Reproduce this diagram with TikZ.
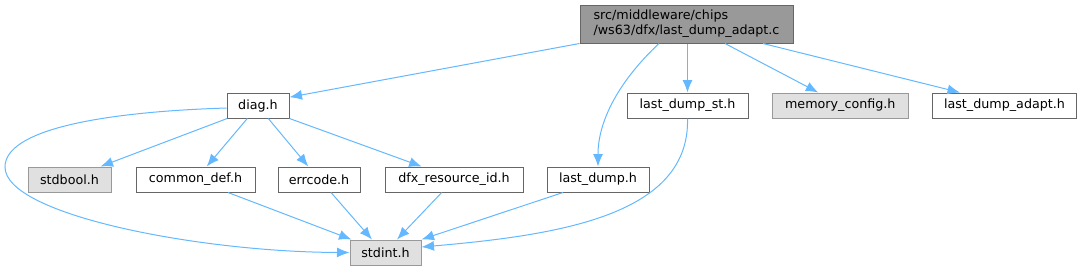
\documentclass[tikz,border=0pt]{standalone}
\usepackage{fontspec}
\setmainfont{DejaVu Sans}
\usetikzlibrary{arrows.meta}
\definecolor{edgeblue}{HTML}{63B8FF}
\definecolor{boxline}{HTML}{666666}
\definecolor{greyline}{HTML}{999999}
\definecolor{greyfill}{HTML}{E0E0E0}
\definecolor{topfill}{HTML}{999999}
\begin{document}
\begin{tikzpicture}[x=1pt,y=-1pt,
  every node/.style={font=\fontsize{12.7}{15}\selectfont, inner sep=0pt, minimum height=25pt},
  filebox/.style={draw=boxline, fill=white, line width=1pt},
  sysbox/.style={draw=greyline, fill=greyfill, line width=1pt},
  topbox/.style={draw=boxline, fill=topfill, line width=1pt, align=left},
  dep/.style={draw=edgeblue, line width=1pt, -{Latex[length=12.5pt,width=10pt]}}]
\useasboundingbox (0,0) rectangle (1085,271);
% nodes
\node[topbox, minimum width=213pt, minimum height=38pt] (top) at (686.5,24) {src/middleware/chips\\/ws63/dfx/last\_dump\_adapt.c};
\node[filebox, minimum width=62pt] (diag) at (258,105.5) {diag.h};
\node[filebox, minimum width=121pt] (ldst) at (687.5,105.5) {last\_dump\_st.h};
\node[sysbox, minimum width=136pt] (memcfg) at (840.3,105.5) {memory\_config.h};
\node[filebox, minimum width=144pt] (ldadapt) at (1004.5,105.5) {last\_dump\_adapt.h};
\node[sysbox, minimum width=83pt] (stdbool) at (69.5,179.5) {stdbool.h};
\node[filebox, minimum width=119pt] (commondef) at (195.5,179.5) {common\_def.h};
\node[filebox, minimum width=82pt] (errcode) at (319,179.5) {errcode.h};
\node[filebox, minimum width=138pt] (dfxres) at (454,179.5) {dfx\_resource\_id.h};
\node[filebox, minimum width=102pt] (lastdump) at (598,179.5) {last\_dump.h};
\node[sysbox, minimum width=71pt] (stdint) at (385.5,252.5) {stdint.h};
% edges from top
\draw[dep] (top.south west) -- ([yshift=-4.7pt]diag.north east);
\draw[dep] ([xshift=-27.5pt]top.south) .. controls (620,80) and (598,120) .. (lastdump.north);
\draw[dep] (ldst.north |- top.south) -- (ldst.north);
\draw[dep] ([xshift=38.5pt]top.south) -- ([xshift=-22pt]memcfg.north);
\draw[dep] ([xshift=76.5pt]top.south) -- ([xshift=-44.5pt]ldadapt.north);
% edges from diag
\draw[dep] ([xshift=0.7pt]diag.south west) -- ([xshift=-11pt]stdbool.north east);
\draw[dep] ([xshift=-10.7pt]diag.south) -- ([xshift=11.2pt]commondef.north);
\draw[dep] ([xshift=10.3pt]diag.south) -- ([xshift=-10.7pt]errcode.north);
\draw[dep] (diag.south east) -- ([xshift=-32.3pt]dfxres.north);
\coordinate (loopleft) at (5,167);
\draw[dep] ([yshift=-2.5pt]diag.west) .. controls (100,112) and (5,130) .. (loopleft) .. controls (5,215) and (200,252) .. (stdint.west);
% edges into stdint
\draw[dep] ([xshift=32.5pt]commondef.south) -- ([xshift=2pt]stdint.north west);
\draw[dep] ([xshift=12pt]errcode.south) -- ([xshift=-13.5pt]stdint.north);
\draw[dep] ([xshift=-12.3pt]dfxres.south) -- ([xshift=11.5pt]stdint.north);
\draw[dep] ([xshift=-35pt]lastdump.south) -- (stdint.north east);
\draw[dep] (ldst.south) .. controls (690,215) and (560,235) .. ([yshift=5.5pt]stdint.east);
\end{tikzpicture}
\end{document}
